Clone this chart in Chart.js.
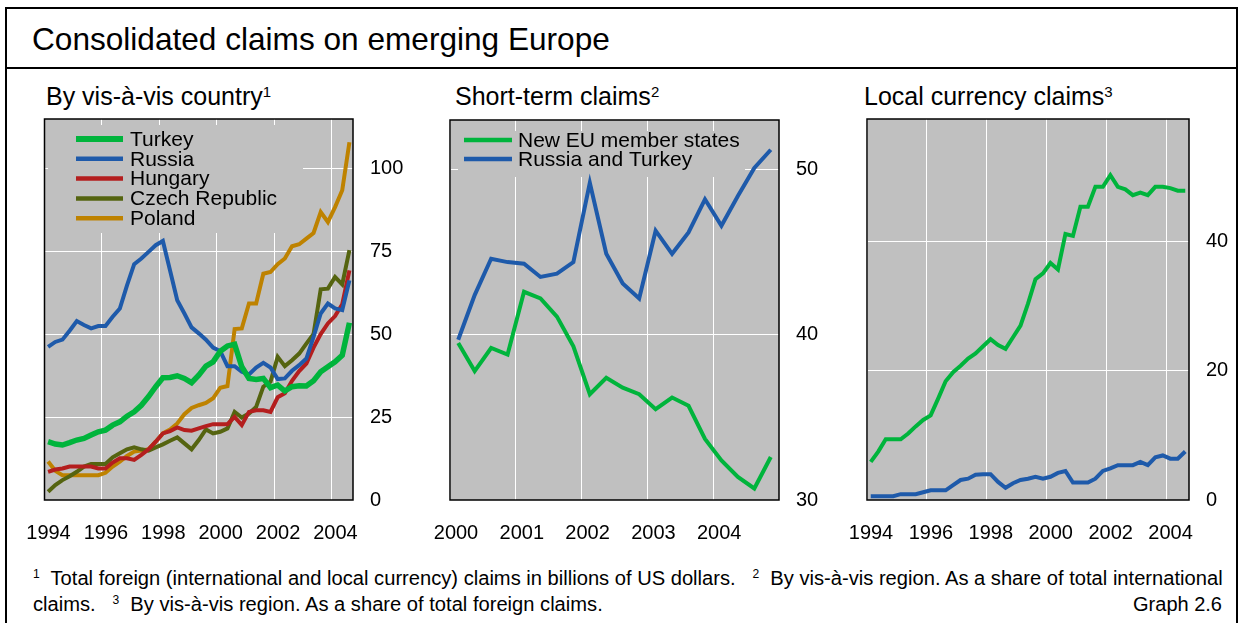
<!DOCTYPE html>
<html>
<head>
<meta charset="utf-8">
<script src="https://cdn.jsdelivr.net/npm/chart.js@4.4.1/dist/chart.umd.min.js"></script>
<style>
  body{margin:0;width:1239px;height:623px;background:#fff;position:relative;overflow:hidden;
       font-family:"Liberation Sans",Arial,Helvetica,sans-serif;color:#000}
  #frame{position:absolute;left:5px;top:7px;width:1233px;height:640px;border:2px solid #000;box-sizing:border-box}
  #sep{position:absolute;left:5px;top:67px;width:1233px;height:2px;background:#000}
  #title{position:absolute;left:32px;top:21px;font-size:31.6px;line-height:36px;white-space:nowrap}
  .ptitle{position:absolute;top:82px;font-size:25px;line-height:28px;white-space:nowrap}
  .ptitle sup,.fn sup{font-size:60%;vertical-align:top;position:relative;top:-4px}
  .box{position:absolute;top:110px;height:435px}
  .fn{position:absolute;left:33px;font-size:20.15px;line-height:22px;white-space:nowrap}
  #graphno{position:absolute;right:17px;top:593px;font-size:20px;line-height:22px}
</style>
</head>
<body>
<div id="frame"></div>
<div id="sep"></div>
<div id="title">Consolidated claims on emerging Europe</div>

<div class="ptitle" style="left:46px">By vis-à-vis country<sup>1</sup></div>
<div class="ptitle" style="left:455px">Short-term claims<sup>2</sup></div>
<div class="ptitle" style="left:864px">Local currency claims<sup>3</sup></div>

<div class="box" style="left:20px;width:400px"><canvas id="c1" width="400" height="435"></canvas></div>
<div class="box" style="left:430px;width:400px"><canvas id="c2" width="400" height="435"></canvas></div>
<div class="box" style="left:840px;width:399px"><canvas id="c3" width="399" height="435"></canvas></div>

<div class="fn" style="top:567px"><sup>1</sup>&nbsp; Total foreign (international and local currency) claims in billions of US dollars. &nbsp; <sup>2</sup>&nbsp; By vis-à-vis region. As a share of total international</div>
<div class="fn" style="top:593px">claims. &nbsp; <sup>3</sup>&nbsp; By vis-à-vis region. As a share of total foreign claims.</div>
<div id="graphno">Graph 2.6</div>

<script>
/* ---------- data ---------- */
const quarters9404 = [
  '1994Q1','1994Q2','1994Q3','1994Q4','1995Q1','1995Q2','1995Q3','1995Q4',
  '1996Q1','1996Q2','1996Q3','1996Q4','1997Q1','1997Q2','1997Q3','1997Q4',
  '1998Q1','1998Q2','1998Q3','1998Q4','1999Q1','1999Q2','1999Q3','1999Q4',
  '2000Q1','2000Q2','2000Q3','2000Q4','2001Q1','2001Q2','2001Q3','2001Q4',
  '2002Q1','2002Q2','2002Q3','2002Q4','2003Q1','2003Q2','2003Q3','2003Q4',
  '2004Q1','2004Q2','2004Q3'];
const quarters0004 = [
  '2000Q1','2000Q2','2000Q3','2000Q4','2001Q1','2001Q2','2001Q3','2001Q4',
  '2002Q1','2002Q2','2002Q3','2002Q4','2003Q1','2003Q2','2003Q3','2003Q4',
  '2004Q1','2004Q2','2004Q3','2004Q4'];

// panel 1: billions of US dollars
const turkey  = [17.6,16.9,16.6,17.3,18.1,18.6,19.6,20.6,21.1,22.6,23.6,25.3,26.6,28.6,31.2,34.2,36.9,37.0,37.5,36.7,35.4,37.7,40.4,41.7,44.9,46.5,47.0,40.2,36.7,36.4,36.7,33.9,34.7,32.9,34.2,34.5,34.4,36.0,38.7,40.2,41.7,43.7,53.5];
const russia  = [46.2,47.7,48.4,51.1,54.0,52.8,51.8,52.5,52.5,55.3,57.8,64.8,71.2,72.9,74.9,76.9,78.2,69.3,60.3,56.3,52.1,50.3,48.4,46.0,44.9,40.4,40.4,38.7,37.9,40.0,41.4,40.0,36.5,36.7,39.0,40.7,42.7,49.2,56.3,59.3,57.8,57.3,66.3];
const hungary = [8.5,9.2,9.5,10.1,10.1,10.1,10.1,9.5,9.5,11.3,12.6,12.6,12.1,13.6,15.3,17.6,20.1,20.8,21.9,21.1,20.9,21.6,22.3,22.9,22.9,22.9,25.1,22.6,26.6,27.1,27.1,26.6,31.0,32.2,36.0,38.9,41.2,46.0,50.1,53.3,55.5,59.1,69.3];
const czech   = [2.5,4.5,6.0,7.2,8.5,10.1,10.9,10.9,10.9,12.9,14.1,15.3,15.9,15.3,14.9,15.9,16.8,17.9,18.9,17.1,15.3,18.1,21.3,20.1,20.6,21.6,26.6,24.9,26.1,28.1,34.2,35.7,43.2,40.4,42.2,44.2,47.2,50.1,63.6,63.8,67.3,65.1,75.4];
const poland  = [11.6,8.8,7.5,7.5,7.5,7.5,7.5,7.5,8.2,10.1,11.6,13.3,14.6,14.9,15.3,17.6,20.1,21.3,23.1,25.9,27.8,28.6,29.3,30.7,33.9,34.4,51.6,51.8,59.3,59.3,68.3,68.8,71.2,72.9,76.6,77.2,78.9,80.6,86.9,83.9,88.4,93.5,108.0];

// panel 2: short-term claims, % of international claims
const stNewEU   = [39.5,37.8,39.2,38.8,42.6,42.2,41.1,39.3,36.4,37.4,36.8,36.4,35.5,36.2,35.7,33.7,32.4,31.4,30.7,32.6];
const stRusTur  = [39.7,42.4,44.6,44.4,44.3,43.5,43.7,44.4,49.2,44.9,43.1,42.2,46.3,44.9,46.2,48.2,46.6,48.4,50.1,51.2];

// panel 3: local currency claims, % of foreign claims
const lcNewEU  = [5.9,7.5,9.4,9.4,9.4,10.3,11.4,12.4,13.1,15.7,18.4,19.8,20.8,21.9,22.7,23.8,24.9,24.0,23.4,25.2,27.0,30.4,34.2,35.1,36.7,35.7,41.2,40.9,45.4,45.4,48.5,48.5,50.3,48.5,48.1,47.2,47.6,47.2,48.5,48.5,48.3,47.9,47.9];
const lcRusTur = [0.6,0.6,0.6,0.6,0.9,0.9,0.9,1.2,1.5,1.5,1.5,2.3,3.1,3.3,3.9,4.0,4.0,2.8,1.9,2.6,3.1,3.3,3.6,3.3,3.6,4.2,4.5,2.7,2.7,2.7,3.3,4.5,4.9,5.4,5.4,5.4,5.9,5.4,6.6,6.9,6.4,6.4,7.5];

const yearTicks9404 = [1994,1996,1998,2000,2002,2004];
const yearTicks0004 = [2000,2001,2002,2003,2004];
const yTicks1 = [0,25,50,75,100];
const yTicks2 = [30,40,50];
const yTicks3 = [0,20,40];

/* ---------- helpers ---------- */
const FONT = '"Liberation Sans", Arial, sans-serif';
const GREEN='#00b43c', BLUE='#1e5aaa', RED='#b41e1e', OLIVE='#556410', GOLD='#be8200';

// quarter label -> mid-quarter position on a year axis
const qx = q => +q.slice(0,4) + (+q[5]-1)/4 + 0.125;
const pts = (qs, vals) => vals.map((v,i)=>({x:qx(qs[i]), y:v}));

const ds = (label, qs, vals, color, w) => ({
  label, data: pts(qs, vals), borderColor: color, backgroundColor: color,
  borderWidth: w, pointRadius: 0, tension: 0, borderJoinStyle: 'miter', borderCapStyle: 'butt'
});

/* grey plot background + black frame */
const plotFrame = {
  id:'plotFrame',
  beforeDraw(ch){
    const a=ch.chartArea, c=ch.ctx;
    c.save(); c.fillStyle='#c0c0c0'; c.fillRect(a.left,a.top,a.right-a.left,a.bottom-a.top); c.restore();
  },
  afterDraw(ch){
    const a=ch.chartArea, c=ch.ctx;
    c.save(); c.strokeStyle='#000'; c.lineWidth=1.5;
    c.strokeRect(a.left,a.top,a.right-a.left,a.bottom-a.top); c.restore();
  }
};

/* legend inside the plot, on a grey patch that hides the grid */
const innerLegend = {
  id:'innerLegend',
  beforeDatasetsDraw(ch, args, o){
    if(o.hide) return;
    const a=ch.chartArea, c=ch.ctx;
    c.save();
    c.fillStyle='#c0c0c0';
    c.fillRect(a.left+o.box[0], a.top+o.box[1], o.box[2]-o.box[0], o.box[3]-o.box[1]);
    c.font = o.fontSize+'px '+FONT;
    c.textBaseline='middle'; c.fillStyle='#000';
    ch.data.datasets.forEach((d,i)=>{
      const y = a.top + o.firstY + i*o.rowH;
      c.strokeStyle=d.borderColor; c.lineWidth=d.borderWidth+0.5;
      c.beginPath(); c.moveTo(a.left+o.swatch[0], y); c.lineTo(a.left+o.swatch[1], y); c.stroke();
      c.fillText(d.label, a.left+o.textX, y+1);
    });
    c.restore();
  }
};

// keep the plot box where the layout padding puts it
const noPad = s => { s.paddingTop = s.paddingBottom = s.paddingLeft = s.paddingRight = 0; };

function makeChart(id, p){
  return new Chart(document.getElementById(id), {
    type:'line',
    data:{ datasets:p.datasets },
    plugins:[plotFrame, innerLegend],
    options:{
      responsive:false, animation:false, devicePixelRatio:1,
      layout:{ padding:{ left:p.padLeft, top:p.padTop, right:0, bottom:0 } },
      plugins:{ legend:{display:false}, tooltip:{enabled:false}, innerLegend:p.legend },
      scales:{
        x:{
          type:'linear', min:p.xMin, max:p.xMax,
          afterBuildTicks: s => { s.ticks = p.xTicks.map(v=>({value:v})); },
          afterFit: s => { s.height = p.xAxisH; noPad(s); },
          grid:{ color:'#ffffff', lineWidth:1, drawTicks:false },
          border:{ display:false },
          ticks:{ color:'#000', font:{family:FONT, size:20}, padding:21, labelOffset:p.labelOffset,
                  maxRotation:0, autoSkip:false, callback:v=>String(v) }
        },
        y:{
          position:'right', min:p.yMin, max:p.yMax,
          afterBuildTicks: s => { s.ticks = p.yTicks.map(v=>({value:v})); },
          afterFit: s => { s.width = p.yAxisW; noPad(s); },
          grid:{ color:'#ffffff', lineWidth:1, drawTicks:false },
          border:{ display:false },
          ticks:{ color:'#000', font:{family:FONT, size:20}, padding:17, callback:v=>String(v) }
        }
      }
    }
  });
}

makeChart('c1', {
  datasets:[
    ds('Turkey', quarters9404, turkey, GREEN, 5.5),
    ds('Russia', quarters9404, russia, BLUE, 4),
    ds('Hungary', quarters9404, hungary, RED, 4),
    ds('Czech Republic', quarters9404, czech, OLIVE, 4),
    ds('Poland', quarters9404, poland, GOLD, 4)
  ],
  xMin:1994, xMax:2004.75, xTicks:yearTicks9404, labelOffset:4,
  yMin:0, yMax:115, yTicks:yTicks1,
  padLeft:24.5, padTop:9, yAxisW:67, xAxisH:45,
  legend:{ box:[3.5,6,258.5,114], swatch:[31.5,78.5], textX:85.5, firstY:20, rowH:19.8, fontSize:21 }
});

makeChart('c2', {
  datasets:[
    ds('New EU member states', quarters0004, stNewEU, GREEN, 4),
    ds('Russia and Turkey', quarters0004, stRusTur, BLUE, 4)
  ],
  xMin:2000, xMax:2005, xTicks:yearTicks0004, labelOffset:6,
  yMin:30, yMax:53, yTicks:yTicks2,
  padLeft:20, padTop:10, yAxisW:51, xAxisH:45,
  legend:{ box:[8,11,295,57], swatch:[14,62], textX:68, firstY:20, rowH:19, fontSize:21 }
});

makeChart('c3', {
  datasets:[
    ds('New EU member states', quarters9404, lcNewEU, GREEN, 4),
    ds('Russia and Turkey', quarters9404, lcRusTur, BLUE, 4)
  ],
  xMin:1994, xMax:2004.75, xTicks:yearTicks9404, labelOffset:4,
  yMin:0, yMax:59, yTicks:yTicks3,
  padLeft:27, padTop:9, yAxisW:50, xAxisH:45,
  legend:{ hide:true }
});
</script>
</body>
</html>
